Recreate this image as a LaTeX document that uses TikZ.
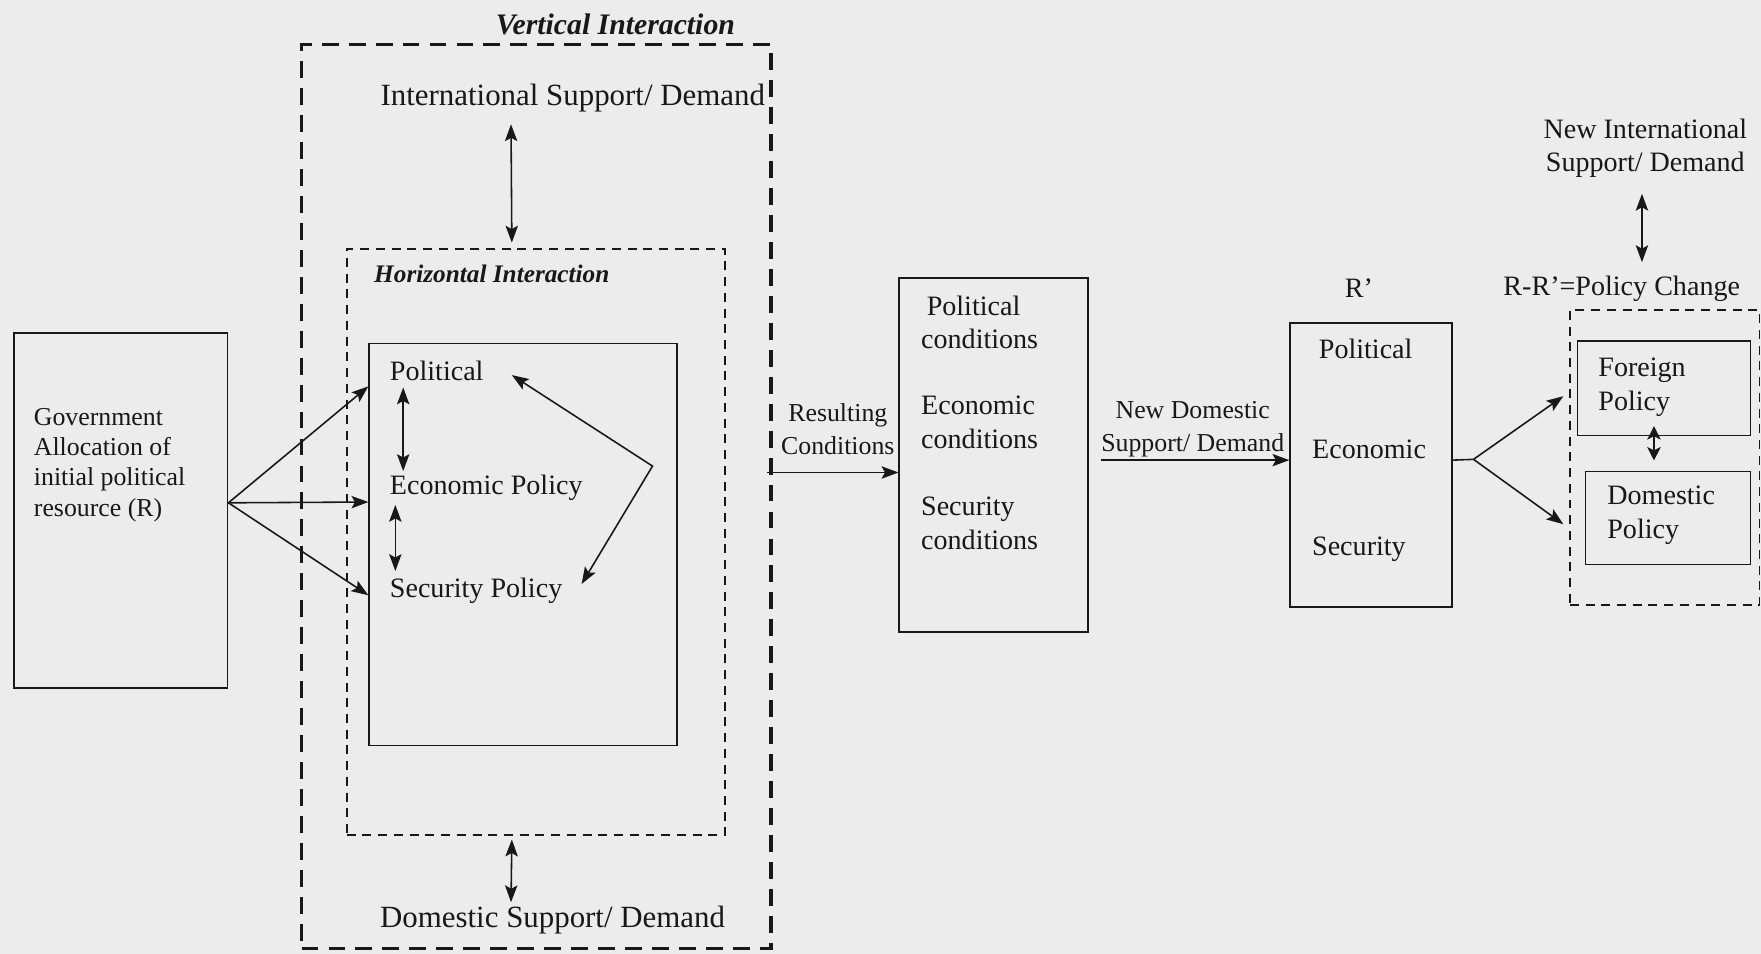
\documentclass[tikz,border=0pt]{standalone}
\usepackage{fontspec}
\setmainfont{Liberation Serif}
\usetikzlibrary{arrows.meta,calc}
\definecolor{bg}{RGB}{236,236,236}
\definecolor{ink}{RGB}{24,24,24}
\begin{document}
\begin{tikzpicture}[x=1pt,y=-1pt,
  box/.style={draw=ink,line width=1.4pt,inner sep=0pt,minimum width=#1},
  big/.style={font=\fontsize{27.5}{31}\selectfont,inner sep=0pt,text=ink},
  lbl/.style={font=\fontsize{25}{30}\selectfont,inner sep=0pt,text=ink},
  sml/.style={font=\fontsize{23}{28}\selectfont,inner sep=0pt,text=ink},
  ttl/.style={font=\fontsize{26.5}{30}\selectfont\bfseries\itshape,inner sep=0pt,text=ink},
  tip/.tip={Stealth[length=15pt,width=11pt,inset=3pt]},
  stip/.tip={Stealth[length=12pt,width=12pt,inset=3pt]},
  arr/.style={draw=ink,line width=1.4pt,-tip},
  darr/.style={draw=ink,line width=1.4pt,tip-tip},
  sdarr/.style={draw=ink,line width=1.4pt,stip-stip},
  thickdash/.style={draw=ink,line width=3pt,dash pattern=on 15pt off 9pt,inner sep=0pt},
  thindash/.style={draw=ink,line width=1.5pt,dash pattern=on 8pt off 6pt,inner sep=0pt},
]
\fill[bg] (0,0) rectangle (1568,849);
\useasboundingbox (0,0) rectangle (1568,849);

% containers
\node[thickdash,minimum width=418pt,minimum height=805pt,anchor=north west] (vbox) at (267,38) {};
\node[thindash,minimum width=337pt,minimum height=522pt,anchor=north west] (hbox) at (308,221) {};
\node[box=274pt,minimum height=358pt,anchor=north west] (inner) at (328,305) {};
\node[box=190pt,minimum height=316pt,anchor=north west] (gov) at (12,296) {};
\node[box=168pt,minimum height=315pt,anchor=north west] (cond) at (800,247) {};
\node[box=144pt,minimum height=253pt,anchor=north west] (rp) at (1148,287) {};
\node[thindash,minimum width=169pt,minimum height=263pt,anchor=north west] (pbox) at (1397,275) {};
\node[box=154pt,minimum height=84pt,anchor=north west] (fbox) at (1404,303) {};
\node[box=147pt,minimum height=83pt,anchor=north west] (dbox) at (1411,419) {};

% texts
\node[ttl] (vtitle) at (548,22) {Vertical Interaction};
\node[big] (intl) at (510,87) {International Support/ Demand};
\node[ttl,font=\fontsize{22.5}{26}\selectfont\bfseries\itshape,anchor=west] (htitle) at (333,244) {Horizontal Interaction};
\node[lbl,anchor=west] (pol) at (347,330) {Political};
\node[lbl,anchor=west] (eco) at (347,434) {Economic Policy};
\node[lbl,anchor=west] (sec) at (347,526) {Security Policy};
\node[big] (dom) at (492,819) {Domestic Support/ Demand};
\node[sml,align=left,anchor=west,font=\fontsize{23}{27}\selectfont] (govt) at (30,414) {Government\\Allocation of\\initial political\\resource (R)};
\node[sml,align=center,font=\fontsize{23}{29}\selectfont] (res) at (746,382) {Resulting\\Conditions};
\node[lbl,align=left,anchor=west,font=\fontsize{25}{29.5}\selectfont] (pc) at (820,287) {\hspace{5pt}Political\\conditions};
\node[lbl,align=left,anchor=west,font=\fontsize{25}{29.5}\selectfont] (ec) at (820,376) {Economic\\conditions};
\node[lbl,align=left,anchor=west,font=\fontsize{25}{29.5}\selectfont] (sc) at (820,466) {Security\\conditions};
\node[sml,align=center,font=\fontsize{23}{29}\selectfont] (newdom) at (1062,382) {New Domestic\\Support/ Demand};
\node[lbl] (rprime) at (1210,257) {R’};
\node[lbl] (rpol) at (1216,311) {Political};
\node[lbl] (reco) at (1219,400) {Economic};
\node[lbl] (rsec) at (1210,489) {Security};
\node[lbl,align=center,font=\fontsize{25}{30}\selectfont] (newintl) at (1465,132) {New International\\Support/ Demand};
\node[lbl] (rr) at (1444,257) {R-R’=Policy Change};
\node[lbl,align=left,anchor=west,font=\fontsize{25}{30}\selectfont] (fp) at (1423,345) {Foreign\\Policy};
\node[lbl,align=left,anchor=west,font=\fontsize{25}{30}\selectfont] (dp) at (1431,459) {Domestic\\Policy};

% connectors
\draw[darr] ($(intl.south)+(-55,11)$) -- ($(hbox.north)+(-21.5,-5)$);
\draw[darr] ($(hbox.south)+(-21.5,3)$) -- ($(dom.north)+(-37,-3)$);
\draw[darr] ($(pol.south west)+(12,6)$) -- ($(eco.north west)+(12,-3)$);
\draw[darr] ($(eco.south west)+(5,4)$) -- ($(sec.north west)+(5,-6)$);
\coordinate (bend) at (581,415);
\draw[darr] ($(pol.east)+(25,4)$) -- (bend) -- ($(sec.east)+(17,-6)$);
\coordinate (gs) at ($(gov.east)+(0,-7)$);
\draw[arr] (gs) -- ($(inner.west |- pol.west)+(0,14)$);
\draw[arr] (gs) -- ($(inner.west |- eco.west)+(0,13)$);
\draw[arr] (gs) -- ($(inner.west |- sec.west)+(0,4)$);
\draw[arr] ($(cond.west)+(-117,15.5)$) -- ($(cond.west)+(0,15.5)$);
\draw[arr] ($(rp.west)+(-168,-4.5)$) -- ($(rp.west)+(0,-4.5)$);
\coordinate (split) at (1312,409);
\draw[draw=ink,line width=1.4pt] ($(rp.east)+(0,-4.5)$) -- (split);
\draw[arr] (split) -- ($(pbox.west)+(-5,-54.5)$);
\draw[arr] (split) -- ($(pbox.west)+(-5,59.5)$);
\draw[darr] ($(newintl.south)+(-3,14)$) -- ($(rr.north)+(18,-12)$);
\draw[sdarr] ($(fbox.south)+(-9,-9)$) -- ($(dbox.north)+(-12.5,-9)$);
\end{tikzpicture}
\end{document}
